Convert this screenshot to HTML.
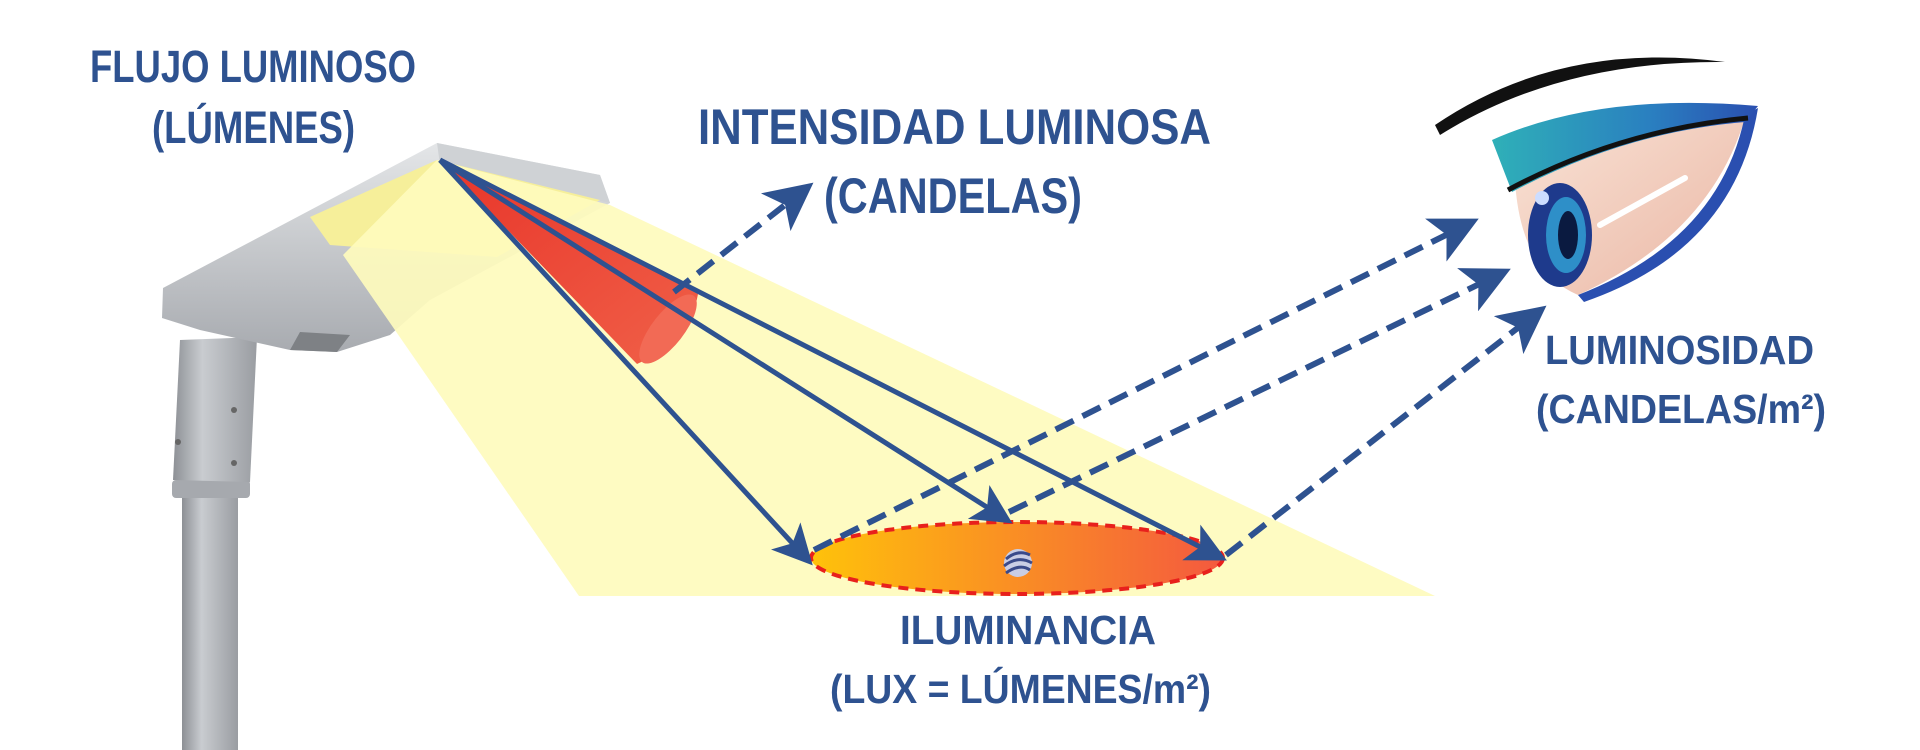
<!DOCTYPE html>
<html><head><meta charset="utf-8"><style>
html,body{margin:0;padding:0;background:#fff;}
svg{display:block}
text{font-family:"Liberation Sans",sans-serif;font-weight:bold;fill:#2e5290;}
</style></head><body>
<svg width="1920" height="750" viewBox="0 0 1920 750" xmlns="http://www.w3.org/2000/svg">
<defs>
<linearGradient id="ell" x1="0" x2="1" y1="0" y2="0"><stop offset="0" stop-color="#ffc20a"/><stop offset="1" stop-color="#f4593f"/></linearGradient>
<linearGradient id="cone" x1="0" x2="1" y1="0" y2="1"><stop offset="0" stop-color="#e8352a"/><stop offset="1" stop-color="#f06048"/></linearGradient>
<linearGradient id="pole" x1="0" x2="1"><stop offset="0" stop-color="#8d9095"/><stop offset="0.35" stop-color="#c9ccd0"/><stop offset="1" stop-color="#9a9da2"/></linearGradient>
<linearGradient id="head" x1="0" x2="0" y1="0" y2="1"><stop offset="0" stop-color="#e4e6e8"/><stop offset="1" stop-color="#a8abb0"/></linearGradient>
<linearGradient id="lid" x1="0" x2="1"><stop offset="0" stop-color="#2fb0b8"/><stop offset="0.6" stop-color="#2a7fc0"/><stop offset="1" stop-color="#2a4fb0"/></linearGradient>
<linearGradient id="skin" x1="0" x2="1" y1="0" y2="1"><stop offset="0" stop-color="#f9e3d6"/><stop offset="1" stop-color="#eab6a4"/></linearGradient>
<marker id="ah" markerWidth="8" markerHeight="8" refX="6" refY="4" orient="auto" markerUnits="strokeWidth"><path d="M0,0 L8,4 L0,8 L2,4 Z" fill="#2e5290"/></marker>
</defs>

<!-- pole -->
<rect x="182" y="485" width="56" height="265" fill="url(#pole)"/>
<rect x="172" y="480" width="78" height="18" rx="4" fill="#a6a9ae"/>
<path d="M180,340 L257,337 L250,482 L173,480 Z" fill="url(#pole)"/>
<circle cx="234" cy="410" r="3" fill="#666"/><circle cx="234" cy="463" r="3" fill="#666"/><circle cx="178" cy="442" r="3" fill="#666"/>

<!-- lamp head -->
<path d="M437,143 L600,175 L610,203 L430,300 L390,335 L337,352 L290,350 L200,330 L162,318 L163,288 Z" fill="url(#head)"/>
<path d="M437,143 L600,175 L610,203 L440,165 Z" fill="#cfd2d5"/>
<path d="M310,217 L437,160 L600,200 L497,257 L330,245 Z" fill="#f6ef9a"/>
<path d="M290,350 L337,352 L350,335 L300,332 Z" fill="#7e8185"/>

<!-- light beam -->
<path d="M343,255 L437,160 L610,205 L1435,596 L579,596 Z" fill="#fefbbd" opacity="0.92"/>

<!-- red cone -->
<path d="M440,160 L637,364 Q690,340 698,294 Z" fill="url(#cone)"/>
<ellipse cx="668" cy="329" rx="16" ry="42" transform="rotate(38 668 329)" fill="#f26a55"/>

<!-- ellipse -->
<ellipse cx="1017" cy="558" rx="206" ry="36" fill="url(#ell)" stroke="#e8201c" stroke-width="4" stroke-dasharray="10,7"/>
<g transform="translate(1018,563)">
<circle r="14" fill="#c9cde4"/>
<path d="M-12,-4 Q0,-14 12,-8 M-14,3 Q0,-8 14,0 M-12,10 Q2,0 12,7" stroke="#3a4a8a" stroke-width="3" fill="none"/>
</g>

<!-- solid rays -->
<g stroke="#2e5290" stroke-width="5" fill="none" marker-end="url(#ah)">
<line x1="440" y1="160" x2="806" y2="558"/>
<line x1="440" y1="160" x2="1004" y2="518"/>
<line x1="440" y1="160" x2="1218" y2="556"/>
</g>
<!-- dashed arrows -->
<g stroke="#2e5290" stroke-width="6" fill="none" stroke-dasharray="20,10" marker-end="url(#ah)">
<line x1="674" y1="292" x2="804" y2="190"/>
<line x1="814" y1="550" x2="1468" y2="224"/>
<line x1="1009" y1="512" x2="1500" y2="274"/>
<line x1="1226" y1="555" x2="1537" y2="313"/>
</g>

<!-- eye -->
<path d="M1435,125 Q1560,40 1725,62 Q1560,60 1440,135 Z" fill="#111"/>
<path d="M1515,180 Q1625,135 1745,118 Q1710,235 1578,295 Q1520,270 1515,180 Z" fill="url(#skin)"/>
<path d="M1745,115 Q1720,240 1578,295 L1584,302 Q1735,250 1758,108 Z" fill="#2a4fb0"/>
<path d="M1492,140 Q1600,92 1758,106 L1745,122 Q1625,132 1512,192 Z" fill="url(#lid)"/>
<path d="M1508,190 Q1620,130 1748,118" stroke="#111" stroke-width="5" fill="none"/>
<ellipse cx="1560" cy="235" rx="32" ry="52" fill="#1e3a8c"/>
<ellipse cx="1566" cy="235" rx="20" ry="38" fill="#2e8fc8"/>
<ellipse cx="1568" cy="235" rx="10" ry="24" fill="#0a1a40"/>
<circle cx="1542" cy="198" r="7" fill="#cdf"/>
<path d="M1600,225 L1685,178" stroke="#fff" stroke-width="6" stroke-linecap="round"/>

<!-- labels -->
<text x="90" y="82" font-size="45" textLength="326" lengthAdjust="spacingAndGlyphs">FLUJO LUMINOSO</text>
<text x="152" y="143" font-size="45" textLength="203" lengthAdjust="spacingAndGlyphs">(LÚMENES)</text>
<text x="698" y="144" font-size="50" textLength="513" lengthAdjust="spacingAndGlyphs">INTENSIDAD LUMINOSA</text>
<text x="824" y="213" font-size="50" textLength="258" lengthAdjust="spacingAndGlyphs">(CANDELAS)</text>
<text x="1545" y="364" font-size="41" textLength="269" lengthAdjust="spacingAndGlyphs">LUMINOSIDAD</text>
<text x="1536" y="423" font-size="41" textLength="290" lengthAdjust="spacingAndGlyphs">(CANDELAS/m²)</text>
<text x="900" y="644" font-size="41" textLength="256" lengthAdjust="spacingAndGlyphs">ILUMINANCIA</text>
<text x="830" y="703" font-size="41" textLength="381" lengthAdjust="spacingAndGlyphs">(LUX = LÚMENES/m²)</text>
</svg>
</body></html>
